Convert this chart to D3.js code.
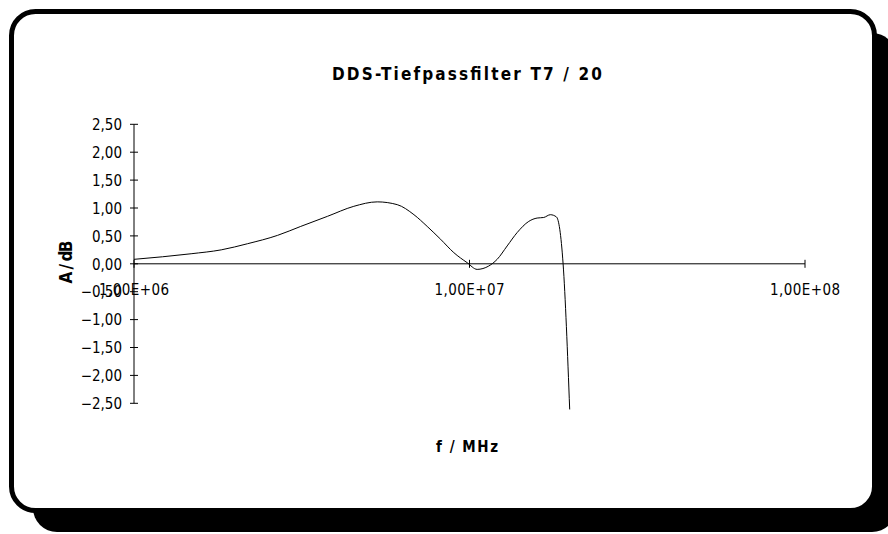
<!DOCTYPE html>
<html>
<head>
<meta charset="utf-8">
<script src="https://cdn.jsdelivr.net/npm/d3@7"></script>
<style>
    body { margin: 0; background: #fff; }
    text { font-family: "DejaVu Sans Condensed", "DejaVu Sans", sans-serif; fill: #000; }
</style>
</head>
<body>
<svg width="888" height="534"></svg>
<script>

// measured frequency (MHz) and attenuation (dB) of the lowpass filter
var freqMHz = [1, 1.48, 1.82, 2.18, 2.68, 3.14, 3.77, 4.52, 5.31, 6.09, 6.83, 7.48, 8.2, 8.98,
    9.84, 10.54, 11.41, 12.09, 12.95, 13.87, 15.02, 15.91, 16.64, 17.42, 18.16, 19.01, 19.89];
var gainDb = [0.08, 0.18, 0.25, 0.36, 0.51, 0.67, 0.85, 1.03, 1.11, 1.06, 0.88, 0.67, 0.44, 0.20,
    0.02, -0.10, -0.04, 0.08, 0.32, 0.56, 0.76, 0.82, 0.83, 0.88, 0.84, 0.00, -2.61];

// axis ticks
var xTicks = [1e6, 1e7, 1e8];
var xTickLabels = ["1,00E+06", "1,00E+07", "1,00E+08"];
var yTicks = [2.5, 2, 1.5, 1, 0.5, 0, -0.5, -1, -1.5, -2, -2.5];

var svg = d3.select("svg");

// frame with drop shadow
svg.append("rect")
    .attr("x", 33).attr("y", 33)
    .attr("width", 863).attr("height", 499)
    .attr("rx", 24)
    .attr("fill", "#000");

svg.append("rect")
    .attr("x", 11.5).attr("y", 11.5)
    .attr("width", 863).attr("height", 499)
    .attr("rx", 24)
    .attr("fill", "#fff")
    .attr("stroke", "#000")
    .attr("stroke-width", 5);

var x = d3.scaleLog()
    .domain([1e6, 1e8])
    .range([134, 805]);

var y = d3.scaleLinear()
    .domain([-2.5, 2.5])
    .range([403.3, 124.3]);

// y axis with cross ticks
var yAxis = svg.append("g");

yAxis.append("line")
    .attr("x1", x(1e6)).attr("x2", x(1e6))
    .attr("y1", y(2.5)).attr("y2", y(-2.5))
    .attr("stroke", "#000");

yAxis.selectAll(".ytick")
    .data(yTicks)
    .enter().append("line")
    .attr("class", "ytick")
    .attr("x1", x(1e6) - 4).attr("x2", x(1e6) + 4)
    .attr("y1", d => y(d)).attr("y2", d => y(d))
    .attr("stroke", "#000");

yAxis.selectAll(".ylabel")
    .data(yTicks)
    .enter().append("text")
    .attr("class", "ylabel")
    .attr("x", 122)
    .attr("y", d => y(d))
    .attr("dy", "0.38em")
    .attr("text-anchor", "end")
    .style("font-size", "15px")
    .text(d => d3.format(".2f")(d).replace(".", ","));

// x axis sits on 0 dB
var xAxis = svg.append("g");

xAxis.append("line")
    .attr("x1", x(1e6)).attr("x2", x(1e8))
    .attr("y1", y(0)).attr("y2", y(0))
    .attr("stroke", "#000");

xAxis.selectAll(".xtick")
    .data(xTicks)
    .enter().append("line")
    .attr("class", "xtick")
    .attr("x1", d => x(d)).attr("x2", d => x(d))
    .attr("y1", y(0) - 4).attr("y2", y(0) + 4)
    .attr("stroke", "#000");

xAxis.selectAll(".xlabel")
    .data(xTicks)
    .enter().append("text")
    .attr("class", "xlabel")
    .attr("x", d => x(d))
    .attr("y", 295)
    .attr("text-anchor", "middle")
    .attr("textLength", 70)
    .attr("lengthAdjust", "spacing")
    .style("font-size", "15px")
    .text((d, i) => xTickLabels[i]);

// the measured curve
var line = d3.line()
    .x(d => x(d[0] * 1e6))
    .y(d => y(d[1]))
    .curve(d3.curveMonotoneX);

svg.append("path")
    .datum(d3.zip(freqMHz, gainDb))
    .attr("d", line)
    .attr("fill", "none")
    .attr("stroke", "#000")
    .attr("stroke-width", 1);

// titles
svg.append("text")
    .attr("x", 467).attr("y", 80)
    .attr("text-anchor", "middle")
    .attr("textLength", 270)
    .attr("lengthAdjust", "spacing")
    .style("font-size", "17px")
    .style("font-weight", "bold")
    .text("DDS-Tiefpassfilter T7 / 20");

svg.append("text")
    .attr("x", 467).attr("y", 452)
    .attr("text-anchor", "middle")
    .attr("textLength", 62)
    .attr("lengthAdjust", "spacing")
    .style("font-size", "15px")
    .style("font-weight", "bold")
    .text("f / MHz");

svg.append("text")
    .attr("transform", "translate(72,262) rotate(-90)")
    .attr("text-anchor", "middle")
    .attr("textLength", 43)
    .attr("lengthAdjust", "spacing")
    .style("font-size", "17px")
    .style("font-weight", "bold")
    .text("A / dB");

</script>
</body>
</html>
